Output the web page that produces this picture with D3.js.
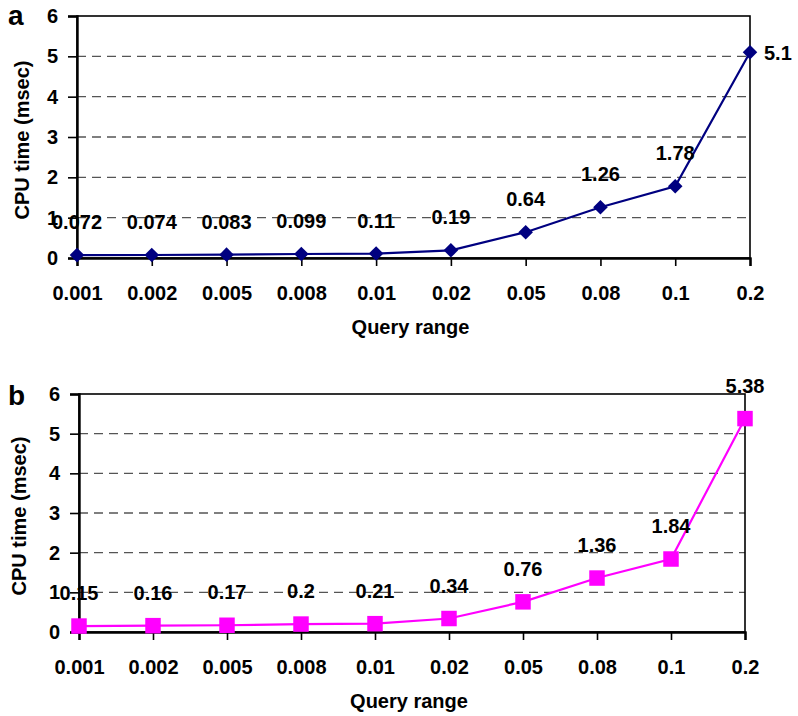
<!DOCTYPE html>
<html><head><meta charset="utf-8">
<script src="https://cdn.jsdelivr.net/npm/d3@7"></script>
<style>
body{margin:0;background:#fff;}
text{font-family:"Liberation Sans",Arial,sans-serif;font-weight:bold;fill:#000;}
</style></head>
<body><svg id="c" width="798" height="716"></svg>
<script>
const categories = ["0.001","0.002","0.005","0.008","0.01","0.02","0.05","0.08","0.1","0.2"];
const seriesA = [0.072,0.074,0.083,0.099,0.11,0.19,0.64,1.26,1.78,5.1];
const labelsA = ["0.072","0.074","0.083","0.099","0.11","0.19","0.64","1.26","1.78","5.1"];
const seriesB = [0.15,0.16,0.17,0.2,0.21,0.34,0.76,1.36,1.84,5.38];
const labelsB = ["0.15","0.16","0.17","0.2","0.21","0.34","0.76","1.36","1.84","5.38"];
const yTicks = [0,1,2,3,4,5,6];
const xTitle = "Query range";
const yTitle = "CPU time (msec)";

const svg = d3.select("#c");

function panel(cfg){
  const g = svg.append("g");
  const x = d3.scalePoint().domain(categories).range([cfg.x0, cfg.x1]).padding(0);
  const y = d3.scaleLinear().domain([0,6]).range([cfg.y0, cfg.yTop]);
  // gridlines
  g.selectAll("line.grid").data(yTicks.filter(t=>t>0 && t<6)).join("line")
    .attr("x1",cfg.x0).attr("x2",cfg.x1).attr("y1",d=>y(d)).attr("y2",d=>y(d))
    .attr("stroke","#555").attr("stroke-width",1.3).attr("stroke-dasharray","9,6");
  // frame
  g.append("rect").attr("x",cfg.x0).attr("y",y(6)).attr("width",cfg.x1-cfg.x0).attr("height",y(0)-y(6))
    .attr("fill","none").attr("stroke","#000").attr("stroke-width",1.6);
  // y axis
  const ya = g.append("g").attr("transform",`translate(${cfg.x0},0)`)
    .call(d3.axisLeft(y).tickValues(yTicks).tickSize(9).tickPadding(10).tickFormat(d3.format("d")));
  ya.select(".domain").attr("stroke","#000").attr("stroke-width",2.4);
  ya.selectAll(".tick line").attr("stroke","#000").attr("stroke-width",1.6);
  ya.selectAll(".tick text").style("font-size","20px").attr("fill","#000").style("font-family","'Liberation Sans',Arial,sans-serif").style("font-weight","bold");
  // x axis
  const xa = g.append("g").attr("transform",`translate(0,${cfg.y0})`)
    .call(d3.axisBottom(x).tickSize(8).tickPadding(20));
  xa.select(".domain").attr("stroke","#000").attr("stroke-width",2.4);
  xa.selectAll(".tick line").attr("stroke","#000").attr("stroke-width",1.6);
  xa.selectAll(".tick text").style("font-size","20px").attr("fill","#000").style("font-family","'Liberation Sans',Arial,sans-serif").style("font-weight","bold");
  // line
  const line = d3.line().x((d,i)=>x(categories[i])).y(d=>y(d));
  g.append("path").datum(cfg.values).attr("d",line).attr("fill","none")
    .attr("stroke",cfg.color).attr("stroke-width",2.2);
  // markers
  g.selectAll("path.m").data(cfg.values).join("path")
    .attr("d", d3.symbol().type(d3.symbolSquare).size(cfg.msize))
    .attr("transform",(d,i)=>`translate(${x(categories[i])},${y(d)}) rotate(${cfg.rot})`)
    .attr("fill",cfg.color);
  // data labels
  g.selectAll("text.lab").data(cfg.values).join("text")
    .attr("x",(d,i)=> cfg.rightLast && i===cfg.values.length-1 ? x(categories[i])+14 : x(categories[i]))
    .attr("y",(d,i)=> cfg.rightLast && i===cfg.values.length-1 ? y(d)+8 : y(d)-26)
    .attr("text-anchor",(d,i)=> cfg.rightLast && i===cfg.values.length-1 ? "start":"middle")
    .style("font-size","20px")
    .text((d,i)=>cfg.labels[i]);
  // titles
  g.append("text").attr("x",(cfg.x0+cfg.x1)/2 - 3).attr("y",cfg.y0+76).attr("text-anchor","middle")
    .style("font-size","20px").text(xTitle);
  g.append("text").attr("transform",`translate(${cfg.ytx},${(cfg.yTop+cfg.y0)/2+3}) rotate(-90)`)
    .attr("text-anchor","middle").attr("dy","0.35em").style("font-size","20px").text(yTitle);
  g.append("text").attr("x",cfg.lx).attr("y",cfg.ly).style("font-size","28px").text(cfg.letter);
}

panel({x0:77,x1:750,yTop:16,y0:258,values:seriesA,labels:labelsA,color:"#000080",msize:106,rot:45,
  rightLast:true,ytx:22,letter:"a",lx:8,ly:25});
panel({x0:79,x1:745,yTop:394,y0:632,values:seriesB,labels:labelsB,color:"#FF00FF",msize:240,rot:0,
  rightLast:false,ytx:19,letter:"b",lx:8,ly:405});
</script></body></html>
